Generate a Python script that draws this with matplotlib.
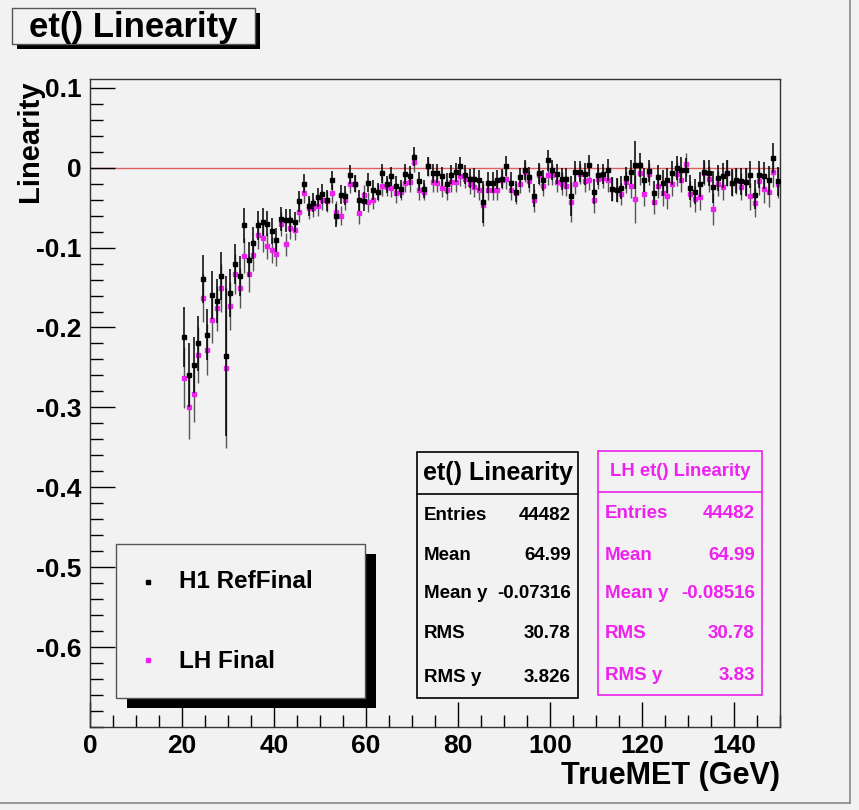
import numpy as np
import matplotlib
matplotlib.use("Agg")
import matplotlib.pyplot as plt
from matplotlib.patches import Rectangle
from matplotlib.lines import Line2D

# bin centres, 1 GeV bins from 20 to 150
met = np.arange(20.5, 150.0, 1.0)

h1_ref = [
    -0.212, -0.260, -0.247, -0.220, -0.139, -0.209, -0.159, -0.167, -0.135, -0.236,
    -0.157, -0.121, -0.136, -0.072, -0.115, -0.094, -0.072, -0.068, -0.070, -0.079,
    -0.091, -0.064, -0.066, -0.066,
    -0.068, -0.042, -0.020, -0.048, -0.044, -0.037, -0.033, -0.041, -0.016, -0.060,
    -0.034, -0.035, -0.009, -0.020, -0.041, -0.042, -0.019, -0.028, -0.030, -0.007,
    -0.021, -0.011, -0.023, -0.027, -0.008,
    -0.010, 0.014, -0.017, -0.027, 0.002, -0.007, -0.007, -0.011, -0.020, -0.009,
    -0.006, 0.002, -0.009, -0.014, -0.014, -0.016, -0.043, -0.019, -0.019, -0.015,
    -0.014, 0.002, -0.019, -0.030, -0.012,
    -0.003, -0.012, -0.035, -0.007, -0.016, 0.009, -0.003, -0.008, -0.014, -0.014,
    -0.036, -0.005, -0.005, -0.008, 0.003, -0.030, -0.009, -0.008, -0.003, -0.027,
    -0.028, -0.025, -0.013, -0.005, 0.003, 0.003, -0.016, -0.004,
    -0.032, -0.012, -0.019, -0.016, -0.007, 0.000, -0.003, -0.003, -0.025, -0.030,
    -0.021, -0.005, -0.007, -0.024, -0.013, -0.010, -0.007, -0.019, -0.016, -0.017,
    -0.018, -0.009, -0.034, -0.009, -0.010, -0.016, 0.012, -0.017,
]

lh_final = [
    -0.263, -0.300, -0.283, -0.234, -0.163, -0.228, -0.190, -0.176, -0.150, -0.251,
    -0.173, -0.133, -0.150, -0.110, -0.133, -0.109, -0.084, -0.088, -0.098, -0.103,
    -0.108, -0.071, -0.096, -0.075,
    -0.078, -0.055, -0.032, -0.051, -0.050, -0.048, -0.041, -0.042, -0.032, -0.056,
    -0.060, -0.041, -0.020, -0.020, -0.057, -0.034, -0.043, -0.040, -0.031, -0.023,
    -0.024, -0.025, -0.032, -0.030, -0.019,
    -0.018, 0.007, -0.028, -0.030, 0.002, -0.018, -0.019, -0.025, -0.028, -0.018,
    -0.018, -0.011, -0.014, -0.021, -0.024, -0.028, -0.047, -0.028, -0.028, -0.028,
    -0.015, -0.014, -0.028, -0.032, -0.020,
    -0.005, -0.017, -0.041, -0.009, -0.023, -0.009, -0.009, -0.018, -0.020, -0.023,
    -0.043, -0.020, -0.008, -0.017, -0.015, -0.041, -0.014, -0.013, -0.016, -0.027,
    -0.028, -0.033, -0.018, -0.023, -0.039, -0.007, -0.033, -0.008,
    -0.043, -0.023, -0.032, -0.036, -0.020, -0.008, -0.015, 0.004, -0.033, -0.039,
    -0.037, -0.007, -0.014, -0.052, -0.020, -0.024, -0.007, -0.019, -0.017, -0.024,
    -0.018, -0.036, -0.044, -0.017, -0.027, -0.031, -0.005, -0.020,
]

err = [
    0.038, 0.040, 0.035, 0.035, 0.030, 0.032, 0.030, 0.028, 0.030, 0.100,
    0.030, 0.025, 0.025, 0.022, 0.022, 0.020, 0.018, 0.018, 0.016, 0.016,
    0.015, 0.015, 0.014, 0.014,
    0.013, 0.013, 0.012, 0.013, 0.012, 0.012, 0.012, 0.013, 0.012, 0.014,
    0.012, 0.012, 0.012, 0.011, 0.013, 0.012, 0.012, 0.012, 0.011, 0.012,
    0.011, 0.012, 0.012, 0.011, 0.012,
    0.012, 0.012, 0.012, 0.011, 0.012, 0.012, 0.012, 0.012, 0.013, 0.012,
    0.012, 0.012, 0.012, 0.012, 0.013, 0.013, 0.026, 0.013, 0.013, 0.012,
    0.012, 0.013, 0.013, 0.013, 0.012,
    0.013, 0.013, 0.014, 0.013, 0.013, 0.013, 0.013, 0.013, 0.014, 0.013,
    0.025, 0.013, 0.013, 0.014, 0.013, 0.016, 0.013, 0.013, 0.014, 0.015,
    0.015, 0.014, 0.014, 0.015, 0.030, 0.015, 0.015, 0.014,
    0.015, 0.015, 0.016, 0.016, 0.015, 0.015, 0.016, 0.015, 0.016, 0.016,
    0.016, 0.015, 0.016, 0.020, 0.016, 0.016, 0.016, 0.017, 0.016, 0.017,
    0.017, 0.017, 0.018, 0.017, 0.017, 0.018, 0.019, 0.018,
]

W, H = 859, 810
BG = '#f2f2f2'
MAG = '#ee22ee'
FONT = 'Liberation Sans'

plt.rcParams['font.family'] = [FONT, 'DejaVu Sans']
plt.rcParams['font.weight'] = 'bold'


def fx(x):
    return x / W


def fy(y):
    return 1 - y / H


fig = plt.figure(figsize=(W / 100, H / 100), dpi=100, facecolor=BG)
ax = fig.add_axes([fx(90), fy(727), fx(780) - fx(90), fy(79) - fy(727)])
ax.set_facecolor(BG)

ax.axhline(0, color='#e06060', lw=1.0, zorder=1)
ax.errorbar(met, h1_ref, yerr=err, fmt='s', color='black', ms=3.2,
            elinewidth=1.1, capsize=0, zorder=3)
ax.errorbar(met, lh_final, yerr=err, fmt='s', color=MAG, ecolor='#555555',
            ms=3.2, elinewidth=1.0, capsize=0, zorder=2)

ax.set_xlim(0, 150)
ax.set_ylim(-0.7, 0.111)
ax.set_xticks(np.arange(0, 141, 20))
ax.set_xticks(np.arange(0, 151, 5), minor=True)
ax.set_yticks(np.arange(-0.6, 0.11, 0.1))
ax.set_yticks(np.arange(-0.7, 0.111, 0.02), minor=True)
ax.set_yticklabels(['-0.6', '-0.5', '-0.4', '-0.3', '-0.2', '-0.1', '0', '0.1'])
ax.tick_params(axis='both', which='major', direction='in', length=18, width=1,
               labelsize=19, top=False, right=False)
ax.tick_params(axis='both', which='minor', direction='in', length=9, width=1,
               top=False, right=False)
ax.tick_params(axis='y', pad=6)
ax.tick_params(axis='x', pad=5)
for lab in ax.get_xticklabels() + ax.get_yticklabels():
    lab.set_fontweight('bold')
for sp in ax.spines.values():
    sp.set_linewidth(1.0)
    sp.set_color('#333333')

fig.text(fx(30), fy(80), 'Linearity', rotation=90, ha='center', va='top',
         fontsize=21, fontweight='bold')
fig.text(fx(780), fy(776), 'TrueMET (GeV)', ha='right', va='center',
         fontsize=22, fontweight='bold')

# title box with shadow
fig.add_artist(Rectangle((fx(17), fy(49)), fx(243), fy(0) - fy(36),
                         transform=fig.transFigure, facecolor='black', edgecolor='none'))
fig.add_artist(Rectangle((fx(12), fy(44)), fx(243), fy(0) - fy(36),
                         transform=fig.transFigure, facecolor=BG, edgecolor='#555555', lw=1))
fig.text(fx(133), fy(27), 'et() Linearity', ha='center', va='center',
         fontsize=25, fontweight='bold')

# legend box with shadow
fig.add_artist(Rectangle((fx(127), fy(708)), fx(249), fy(0) - fy(154),
                         transform=fig.transFigure, facecolor='black', edgecolor='none'))
fig.add_artist(Rectangle((fx(116), fy(698)), fx(249), fy(0) - fy(154),
                         transform=fig.transFigure, facecolor=BG, edgecolor='#555555', lw=1))
fig.add_artist(Line2D([fx(148)], [fy(582)], marker='s', ms=2.5, color='black',
                      transform=fig.transFigure))
fig.add_artist(Line2D([fx(148)], [fy(660)], marker='s', ms=2.5, color=MAG,
                      transform=fig.transFigure))
fig.text(fx(179), fy(582), 'H1 RefFinal', ha='left', va='center', fontsize=17.5,
         fontweight='bold')
fig.text(fx(179), fy(661), 'LH Final', ha='left', va='center', fontsize=17.5,
         fontweight='bold')


def stats_box(x0, x1, y0, y1, ysep, title, tsize, rows, rowy, color):
    fig.add_artist(Rectangle((fx(x0), fy(y1)), fx(x1 - x0), fy(0) - fy(y1 - y0),
                             transform=fig.transFigure, facecolor=BG,
                             edgecolor=color, lw=1.2))
    fig.add_artist(Line2D([fx(x0), fx(x1)], [fy(ysep), fy(ysep)], color=color,
                          lw=1.2, transform=fig.transFigure))
    fig.text(fx((x0 + x1) / 2), fy((y0 + ysep) / 2), title, ha='center',
             va='center', fontsize=tsize, fontweight='bold', color=color)
    for (name, val), yy in zip(rows, rowy):
        fig.text(fx(x0 + 7), fy(yy), name, ha='left', va='center',
                 fontsize=13.5, fontweight='bold', color=color)
        fig.text(fx(x1 - 7), fy(yy), val, ha='right', va='center',
                 fontsize=13.5, fontweight='bold', color=color)


ref_stats = [('Entries', '44482'), ('Mean', '64.99'), ('Mean y', '-0.07316'),
             ('RMS', '30.78'), ('RMS y', '3.826')]
lh_stats = [('Entries', '44482'), ('Mean', '64.99'), ('Mean y', '-0.08516'),
            ('RMS', '30.78'), ('RMS y', '3.83')]

stats_box(417, 578, 452, 698, 494, 'et() Linearity', 18, ref_stats,
          [516, 556, 594, 634, 678], 'black')
stats_box(598, 762, 451, 695, 492, 'LH et() Linearity', 13.3, lh_stats,
          [513, 555, 594, 634, 676], MAG)

# canvas border
fig.add_artist(Line2D([fx(850), fx(850)], [fy(0), fy(803)], color='#888888',
                      lw=1.2, transform=fig.transFigure))
fig.add_artist(Line2D([fx(0), fx(850)], [fy(803), fy(803)], color='#888888',
                      lw=1.2, transform=fig.transFigure))

fig.savefig('out.png', dpi=100, facecolor=BG)
